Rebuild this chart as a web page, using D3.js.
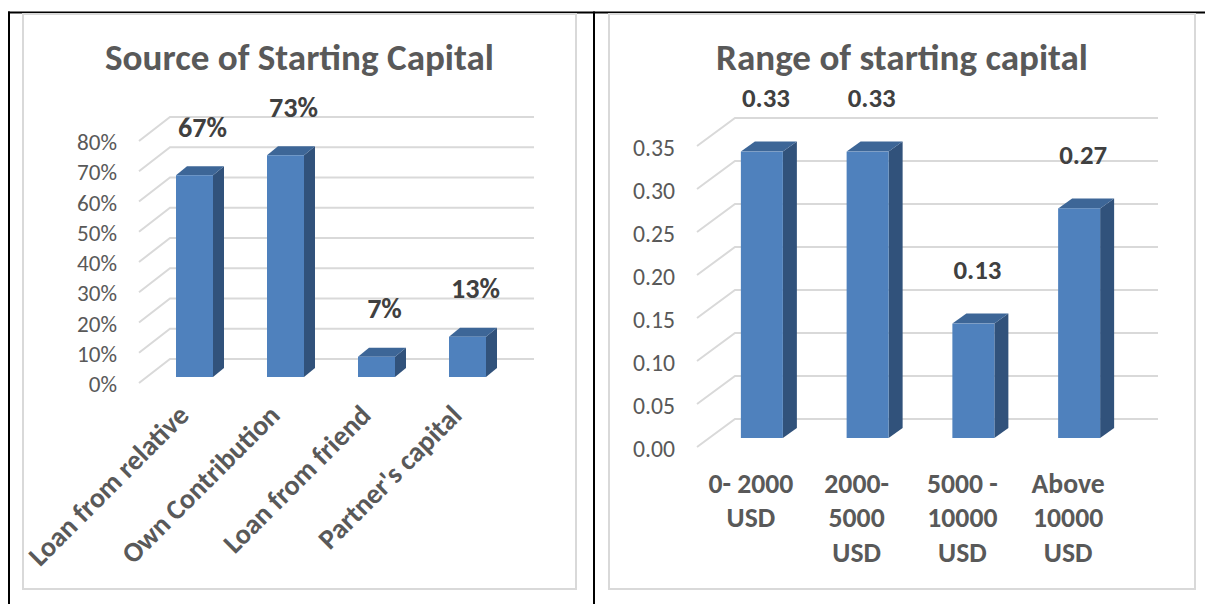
<!DOCTYPE html>
<html>
<head>
<meta charset="utf-8">
<script src="https://cdn.jsdelivr.net/npm/d3@7"></script>
<style>
  html, body { margin: 0; padding: 0; background: #ffffff; }
  svg { display: block; }
  text { font-family: Carlito, Calibri, Lato, "Open Sans", sans-serif; }
</style>
</head>
<body>
<svg id="chart" width="1205" height="604"></svg>
<script>
// ---------- DATA ----------
const leftTitle = "Source of Starting Capital";
const leftCategories = ["Loan from relative", "Own Contribution", "Loan from friend", "Partner's capital"];
const leftValues = [0.667, 0.733, 0.067, 0.133];
const leftTicks = [0, 0.1, 0.2, 0.3, 0.4, 0.5, 0.6, 0.7, 0.8];

const rightTitle = "Range of starting capital";
const rightCategories = [["0- 2000", "USD"], ["2000-", "5000", "USD"], ["5000 -", "10000", "USD"], ["Above", "10000", "USD"]];
const rightValues = [0.333, 0.333, 0.133, 0.267];
const rightTicks = [0, 0.05, 0.10, 0.15, 0.20, 0.25, 0.30, 0.35];

// ---------- STYLE ----------
const GRAY_TEXT = "#595959";
const DARK_TEXT = "#404040";
const GRID = "#d9d9d9";
const FRONT = "#4f81bd";
const SIDE = "#31527b";
const TOP = "#3d6697";

const svg = d3.select("#chart");

// outer black table lines
svg.append("line").attr("x1", 8).attr("x2", 1205).attr("y1", 12.5).attr("y2", 12.5).attr("stroke", "#000").attr("stroke-width", 2);
svg.append("line").attr("x1", 9).attr("x2", 9).attr("y1", 11.5).attr("y2", 604).attr("stroke", "#000").attr("stroke-width", 2);
svg.append("line").attr("x1", 594).attr("x2", 594).attr("y1", 11.5).attr("y2", 604).attr("stroke", "#000").attr("stroke-width", 2);

function fitSize(sel, target) {
  const w = sel.node().getComputedTextLength();
  const fs = parseFloat(sel.attr("font-size"));
  return fs * target / w;
}

function drawChart(cfg) {
  const g = svg.append("g");
  // chart frame
  g.append("rect").attr("x", cfg.frame[0]).attr("y", cfg.frame[1])
    .attr("width", cfg.frame[2] - cfg.frame[0]).attr("height", cfg.frame[3] - cfg.frame[1])
    .attr("fill", "#fff").attr("stroke", GRID).attr("stroke-width", 2);

  // title
  const t = g.append("text").text(cfg.title)
    .attr("x", cfg.titleX).attr("y", cfg.titleY)
    .attr("text-anchor", "middle").attr("font-weight", "bold")
    .attr("font-size", 30).attr("fill", GRAY_TEXT);
  t.attr("font-size", fitSize(t, cfg.titleW));

  const y = d3.scaleLinear().domain(cfg.yDomain).range(cfg.yRange);
  const x = d3.scaleBand().domain(d3.range(cfg.values.length)).range(cfg.xRange);
  const [fdx, fdy] = cfg.floor;   // front-left offset of gridlines
  const [bdx, bdy] = cfg.barPlane; // offset of bar front plane from back wall

  // gridlines (back wall + side-floor diagonal)
  const grid = g.append("g");
  grid.selectAll("path").data(cfg.ticks).join("path")
    .attr("d", d => `M${cfg.xRange[0] + fdx},${y(d) + fdy}L${cfg.xRange[0]},${y(d)}L${cfg.xRange[1]},${y(d)}`)
    .attr("fill", "none").attr("stroke", GRID).attr("stroke-width", 2);

  // y tick labels
  const tl = g.append("g").selectAll("text").data(cfg.ticks).join("text")
    .text(cfg.tickFormat)
    .attr("x", cfg.tickX).attr("y", d => y(d) + fdy + 1)
    .attr("text-anchor", "end").attr("dominant-baseline", "central")
    .attr("font-size", 18).attr("fill", GRAY_TEXT);
  const tfs = fitSize(d3.select(tl.nodes()[tl.nodes().length - 1]), cfg.tickW);
  tl.attr("font-size", tfs);

  // bars
  const bw = cfg.barW, [dx, dy] = cfg.depth;
  const fx = i => x(i) + x.bandwidth() / 2 + bdx - bw / 2;
  const base = y(0) + bdy;
  const topY = v => y(v) + bdy;
  const bars = g.append("g").selectAll("g").data(cfg.values).join("g");
  bars.append("path").attr("fill", SIDE)
    .attr("d", (v, i) => `M${fx(i) + bw},${base}L${fx(i) + bw + dx},${base + dy}L${fx(i) + bw + dx},${topY(v) + dy}L${fx(i) + bw},${topY(v)}Z`);
  bars.append("path").attr("fill", TOP)
    .attr("d", (v, i) => `M${fx(i)},${topY(v)}L${fx(i) + dx},${topY(v) + dy}L${fx(i) + bw + dx},${topY(v) + dy}L${fx(i) + bw},${topY(v)}Z`);
  bars.append("rect").attr("fill", FRONT)
    .attr("x", (v, i) => fx(i)).attr("y", v => topY(v))
    .attr("width", bw).attr("height", v => base - topY(v));

  // data labels
  const dl = g.append("g").selectAll("text").data(cfg.values).join("text")
    .text(cfg.labelFormat)
    .attr("x", (v, i) => fx(i) + bw / 2 + cfg.labelOff[0])
    .attr("y", v => topY(v) + cfg.labelOff[1])
    .attr("text-anchor", "middle").attr("dominant-baseline", "central")
    .attr("font-weight", "bold").attr("font-size", 22).attr("fill", DARK_TEXT);
  dl.attr("font-size", fitSize(d3.select(dl.nodes()[0]), cfg.labelW));

  return { g, x, fx, bw };
}

// ---------- LEFT CHART ----------
const L = drawChart({
  frame: [23, 14, 576, 589],
  title: leftTitle, titleX: 299.5, titleY: 70, titleW: 389,
  values: leftValues, ticks: leftTicks,
  yDomain: [0, 0.8], yRange: [359, 117],
  xRange: [170, 534],
  floor: [-31, 24], barPlane: [-21, 18],
  barW: 37, depth: [11, -9],
  tickX: 117, tickW: 40, tickFormat: d3.format(".0%"),
  labelFormat: d3.format(".0%"), labelOff: [8, -48], labelW: 49
});
const lx = L.g.append("g").selectAll("text").data(leftCategories).join("text")
  .text(d => d)
  .attr("transform", (d, i) => `translate(${L.fx(i) + L.bw / 2 - 4},417) rotate(-45)`)
  .attr("text-anchor", "end").attr("font-weight", "bold")
  .attr("font-size", 20).attr("fill", GRAY_TEXT);
lx.attr("font-size", fitSize(d3.select(lx.nodes()[0]), 213));

// ---------- RIGHT CHART ----------
const R = drawChart({
  frame: [609, 14, 1195, 589],
  title: rightTitle, titleX: 902, titleY: 70, titleW: 372,
  values: rightValues, ticks: rightTicks,
  yDomain: [0, 0.35], yRange: [419, 118],
  xRange: [735, 1158],
  floor: [-38, 28], barPlane: [-26, 19],
  barW: 42, depth: [14, -10],
  tickX: 675, tickW: 42, tickFormat: d3.format(".2f"),
  labelFormat: d3.format(".2f"), labelOff: [4, -54], labelW: 48
});
const rx = R.g.append("g").selectAll("text").data(rightCategories).join("text")
  .attr("x", (d, i) => R.fx(i) + R.bw / 2 - 11)
  .attr("y", 483)
  .attr("text-anchor", "middle").attr("font-weight", "bold")
  .attr("font-size", 22).attr("fill", GRAY_TEXT);
rx.selectAll("tspan").data(d => d).join("tspan")
  .attr("x", function () { return d3.select(this.parentNode).attr("x"); })
  .attr("dy", (d, i) => i === 0 ? "0.35em" : "34.5")
  .text(d => d);
const refSpan = rx.select("tspan").node();
const rfs = 22 * 85 / refSpan.getComputedTextLength();
rx.attr("font-size", rfs);
</script>
</body>
</html>
